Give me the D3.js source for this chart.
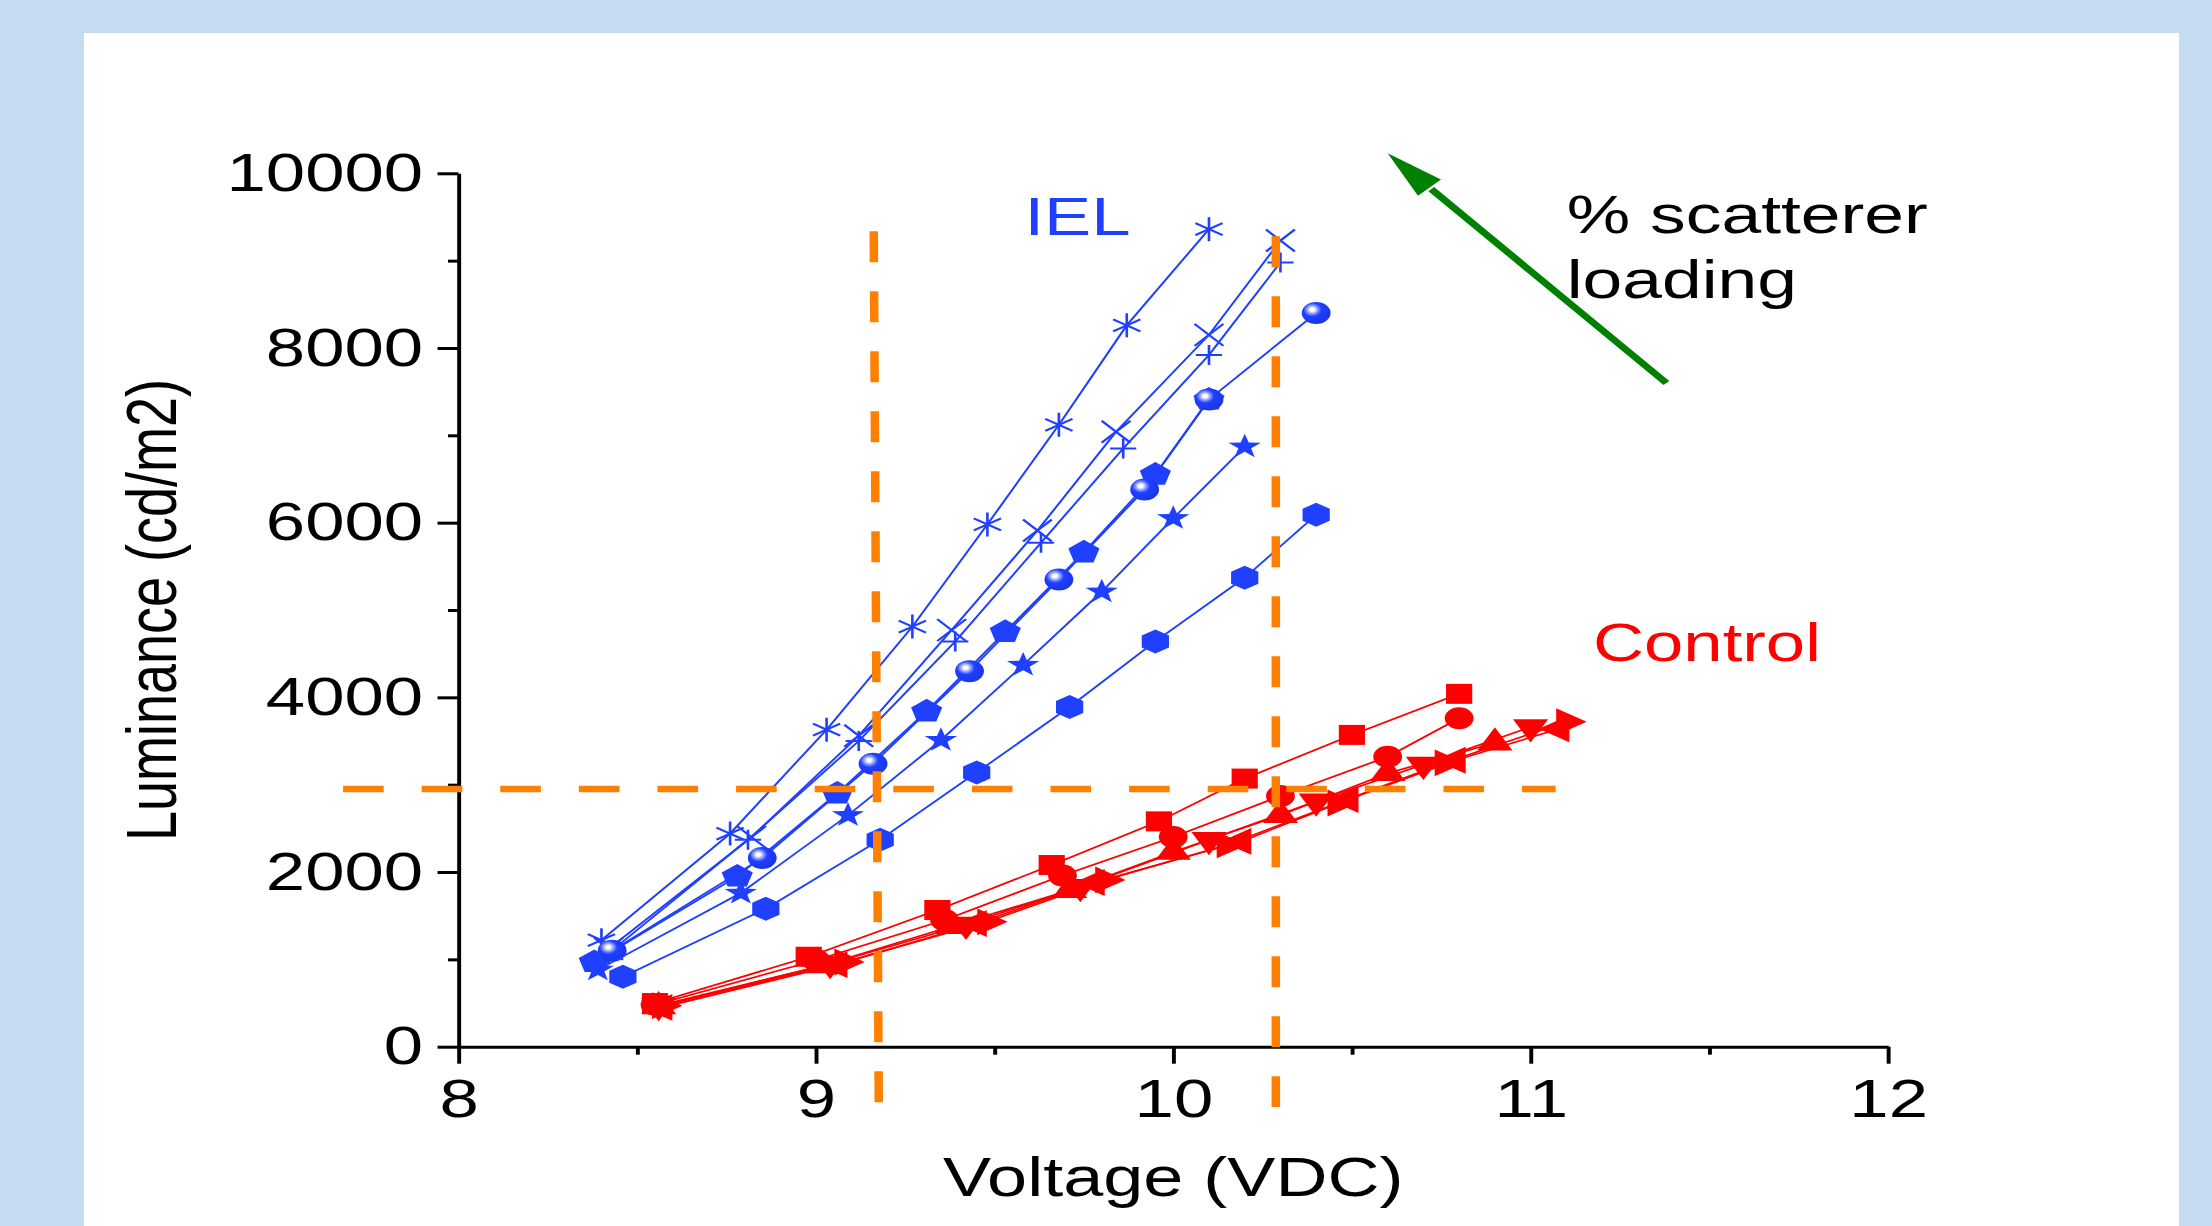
<!DOCTYPE html>
<html>
<head>
<meta charset="utf-8">
<script src="https://cdn.jsdelivr.net/npm/d3@7/dist/d3.min.js"></script>
<style>
  html, body { margin: 0; padding: 0; background: #c5dbf0; overflow: hidden; }
  svg { display: block; }
  text { font-family: "Liberation Sans", Arial, sans-serif; }
</style>
</head>
<body>
<div id="chart"></div>
<script>
// axis ticks
var xTicks = [8, 9, 10, 11, 12];
var xMinorTicks = [8.5, 9.5, 10.5, 11.5];
var yTicks = [0, 2000, 4000, 6000, 8000, 10000];
var yMinorTicks = [1000, 3000, 5000, 7000, 9000];

// IEL series, [voltage, luminance]
var ielAsterisk = [[8.40, 1220], [8.76, 2440], [9.03, 3630], [9.27, 4810], [9.48, 5980], [9.68, 7120], [9.87, 8260], [10.10, 9360]];
var ielCross = [[8.42, 1120], [8.82, 2400], [9.12, 3560], [9.38, 4770], [9.62, 5910], [9.84, 7040], [10.10, 8150], [10.30, 9230]];
var ielPlus = [[8.42, 1070], [8.81, 2370], [9.12, 3500], [9.39, 4640], [9.63, 5770], [9.86, 6850], [10.10, 7920], [10.30, 8980]];
var ielSphere = [[8.43, 1100], [8.85, 2160], [9.16, 3240], [9.43, 4300], [9.68, 5350], [9.92, 6380], [10.10, 7410], [10.40, 8400]];
var ielPentagon = [[8.38, 970], [8.78, 1950], [9.06, 2900], [9.31, 3840], [9.53, 4750], [9.75, 5660], [9.95, 6550], [10.10, 7410]];
var ielStar = [[8.39, 880], [8.79, 1760], [9.09, 2650], [9.35, 3510], [9.58, 4370], [9.80, 5210], [10.00, 6050], [10.20, 6870]];
var ielHexagon = [[8.46, 800], [8.86, 1580], [9.18, 2370], [9.45, 3140], [9.71, 3890], [9.95, 4640], [10.20, 5370], [10.40, 6090]];

// Control series
var ctrlSquare = [[8.55, 500], [8.98, 1030], [9.34, 1565], [9.66, 2080], [9.96, 2580], [10.20, 3070], [10.50, 3570], [10.80, 4040]];
var ctrlCircle = [[8.55, 480], [9.00, 990], [9.36, 1450], [9.69, 1960], [10.00, 2400], [10.30, 2870], [10.60, 3320], [10.80, 3760]];
var ctrlUp = [[8.56, 460], [9.02, 930], [9.38, 1380], [9.71, 1790], [10.00, 2230], [10.30, 2650], [10.60, 3130], [10.90, 3480]];
var ctrlDown = [[8.56, 470], [9.04, 950], [9.42, 1400], [9.74, 1830], [10.10, 2370], [10.40, 2810], [10.70, 3230], [11.00, 3660]];
var ctrlLeft = [[8.57, 450], [9.06, 940], [9.45, 1410], [9.78, 1880], [10.19, 2350], [10.49, 2830], [10.79, 3280], [11.08, 3640]];
var ctrlRight = [[8.57, 470], [9.08, 970], [9.48, 1430], [9.81, 1910], [10.15, 2310], [10.46, 2790], [10.76, 3250], [11.10, 3720]];

// dashed guide lines, [voltage, luminance] from -> to
var guideLines = [
    [[9.162, 9336], [9.176, -645]],
    [[10.287, 9280], [10.287, -690]],
    [[7.677, 2950], [11.07, 2950]]
];
var arrowFrom = [11.38, 7600];
var arrowTo = [10.60, 10230];

var blue = '#2040ff';
var red = '#ff0000';
var orange = '#ff8000';

var series = [
    { data: ielAsterisk, color: blue, shape: 'asterisk' },
    { data: ielCross, color: blue, shape: 'cross' },
    { data: ielPlus, color: blue, shape: 'plus' },
    { data: ielPentagon, color: blue, shape: 'pentagon' },
    { data: ielSphere, color: blue, shape: 'sphere' },
    { data: ielStar, color: blue, shape: 'star' },
    { data: ielHexagon, color: blue, shape: 'hexagon' },
    { data: ctrlSquare, color: red, shape: 'square' },
    { data: ctrlCircle, color: red, shape: 'circle' },
    { data: ctrlUp, color: red, shape: 'up' },
    { data: ctrlDown, color: red, shape: 'down' },
    { data: ctrlLeft, color: red, shape: 'left' },
    { data: ctrlRight, color: red, shape: 'right' }
];

var W = 2212, H = 1226;
var stretch = 1.31;   // the original figure is drawn wider than it is tall
var VW = W / stretch;
var plot = { left: 350, right: 1441.2, top: 173.3, bottom: 1046.7 };
var tickFontSize = 54;

function polygon(n, r, rot) {
    var pts = d3.range(n).map(function(i) {
        var a = rot + i * 2 * Math.PI / n;
        return [r * Math.sin(a), -r * Math.cos(a)];
    });
    return 'M' + pts.join('L') + 'Z';
}

function starPath(rOut, rIn) {
    var pts = d3.range(10).map(function(i) {
        var r = i % 2 ? rIn : rOut;
        var a = i * Math.PI / 5;
        return [r * Math.sin(a), -r * Math.cos(a)];
    });
    return 'M' + pts.join('L') + 'Z';
}

function circlePath(r) {
    return 'M' + r + ',0A' + r + ',' + r + ' 0 1 1 ' + (-r) + ',0A' + r + ',' + r + ' 0 1 1 ' + r + ',0Z';
}

var shapes = {
    asterisk: 'M0,-12L0,12M-10.4,-6L10.4,6M-10.4,6L10.4,-6',
    cross: 'M-11,-11L11,11M-11,11L11,-11',
    plus: 'M-10,0L10,0M0,-10L0,10',
    pentagon: polygon(5, 12.5, 0),
    sphere: circlePath(11),
    star: starPath(13, 5.2),
    hexagon: polygon(6, 12, 0),
    square: 'M-10,-10H10V10H-10Z',
    circle: circlePath(11),
    up: polygon(3, 15.5, 0),
    down: polygon(3, 15.5, Math.PI),
    left: polygon(3, 15.5, -Math.PI / 2),
    right: polygon(3, 15.5, Math.PI / 2)
};
var strokedShapes = ['asterisk', 'cross', 'plus'];

var svg = d3.select('#chart').append('svg')
    .attr('width', W)
    .attr('height', H)
    .attr('viewBox', '0 0 ' + VW + ' ' + H)
    .attr('preserveAspectRatio', 'none');

var grad = svg.append('defs').append('radialGradient')
    .attr('id', 'sphere')
    .attr('cx', '0.38').attr('cy', '0.36').attr('r', '0.62')
    .attr('fx', '0.36').attr('fy', '0.34');
grad.append('stop').attr('offset', '0').attr('stop-color', '#ffffff');
grad.append('stop').attr('offset', '0.12').attr('stop-color', '#ffffff');
grad.append('stop').attr('offset', '0.3').attr('stop-color', '#8c9cff');
grad.append('stop').attr('offset', '0.5').attr('stop-color', blue);
grad.append('stop').attr('offset', '1').attr('stop-color', '#1a36e8');

svg.append('rect').attr('width', VW).attr('height', H).attr('fill', '#c5dbf0');
svg.append('rect')
    .attr('x', 64.1).attr('y', 33)
    .attr('width', 1599.3).attr('height', H)
    .attr('fill', '#ffffff');

var x = d3.scaleLinear().domain([8, 12]).range([plot.left, plot.right]);
var y = d3.scaleLinear().domain([0, 10000]).range([plot.bottom, plot.top]);

function styleAxis(g) {
    g.attr('font-family', null).attr('font-size', null);
    g.selectAll('path, line').attr('stroke', '#000').attr('stroke-width', 3);
    g.selectAll('text').attr('fill', '#000').style('font-size', tickFontSize + 'px');
}

svg.append('g')
    .attr('transform', 'translate(0,' + plot.bottom + ')')
    .call(d3.axisBottom(x).tickValues(xMinorTicks).tickSize(8).tickFormat(''))
    .call(styleAxis)
    .select('.domain').remove();

svg.append('g')
    .attr('transform', 'translate(' + plot.left + ',0)')
    .call(d3.axisLeft(y).tickValues(yMinorTicks).tickSize(8).tickFormat(''))
    .call(styleAxis)
    .select('.domain').remove();

svg.append('g')
    .attr('transform', 'translate(0,' + plot.bottom + ')')
    .call(d3.axisBottom(x).tickValues(xTicks).tickSize(17).tickSizeOuter(0).tickPadding(15).tickFormat(d3.format('d')))
    .call(styleAxis);

svg.append('g')
    .attr('transform', 'translate(' + plot.left + ',0)')
    .call(d3.axisLeft(y).tickValues(yTicks).tickSize(16).tickSizeOuter(0).tickPadding(11).tickFormat(d3.format('d')))
    .call(styleAxis);

svg.append('text')
    .attr('x', (plot.left + plot.right) / 2)
    .attr('y', 1196)
    .attr('text-anchor', 'middle')
    .style('font-size', '55px')
    .text('Voltage (VDC)');

svg.append('text')
    .attr('transform', 'translate(134,' + (plot.top + plot.bottom) / 2 + ') rotate(-90)')
    .attr('text-anchor', 'middle')
    .style('font-size', '54px')
    .text('Luminance (cd/m2)');

var line = d3.line()
    .x(function(d) { return x(d[0]); })
    .y(function(d) { return y(d[1]); });

series.forEach(function(s) {
    svg.append('path')
        .datum(s.data)
        .attr('fill', 'none')
        .attr('stroke', s.color)
        .attr('stroke-width', 1.7)
        .attr('d', line);

    var stroked = strokedShapes.indexOf(s.shape) >= 0;
    svg.selectAll(null)
        .data(s.data)
        .enter().append('path')
        .attr('transform', function(d) { return 'translate(' + x(d[0]) + ',' + y(d[1]) + ')'; })
        .attr('d', shapes[s.shape])
        .attr('fill', stroked ? 'none' : (s.shape === 'sphere' ? 'url(#sphere)' : s.color))
        .attr('stroke', stroked ? s.color : 'none')
        .attr('stroke-width', stroked ? 2 : 0);
});

guideLines.forEach(function(g) {
    svg.append('line')
        .attr('x1', x(g[0][0])).attr('y1', y(g[0][1]))
        .attr('x2', x(g[1][0])).attr('y2', y(g[1][1]))
        .attr('stroke', orange)
        .attr('stroke-width', 6.5)
        .attr('stroke-dasharray', '31,29');
});

// loading arrow
var ax0 = x(arrowFrom[0]), ay0 = y(arrowFrom[1]);
var ax1 = x(arrowTo[0]), ay1 = y(arrowTo[1]);
var len = Math.sqrt((ax0 - ax1) * (ax0 - ax1) + (ay0 - ay1) * (ay0 - ay1));
var ux = (ax0 - ax1) / len, uy = (ay0 - ay1) / len;
var headLen = 47, headHalf = 12;
var bx = ax1 + ux * headLen, by = ay1 + uy * headLen;
svg.append('line')
    .attr('x1', ax0).attr('y1', ay0)
    .attr('x2', bx + ux * 2).attr('y2', by + uy * 2)
    .attr('stroke', '#008000')
    .attr('stroke-width', 6);
svg.append('path')
    .attr('d', 'M' + ax1 + ',' + ay1 +
        'L' + (bx - uy * headHalf) + ',' + (by + ux * headHalf) +
        'L' + (bx + uy * headHalf) + ',' + (by - ux * headHalf) + 'Z')
    .attr('fill', '#008000');

svg.append('text')
    .attr('x', 782).attr('y', 235)
    .attr('fill', blue)
    .style('font-size', '54px')
    .text('IEL');

svg.append('text')
    .attr('x', 1216).attr('y', 661)
    .attr('fill', red)
    .style('font-size', '54px')
    .text('Control');

svg.append('text')
    .attr('x', 1196).attr('y', 233)
    .style('font-size', '54.5px')
    .text('% scatterer');

svg.append('text')
    .attr('x', 1196).attr('y', 298)
    .style('font-size', '54.5px')
    .text('loading');
</script>
</body>
</html>
